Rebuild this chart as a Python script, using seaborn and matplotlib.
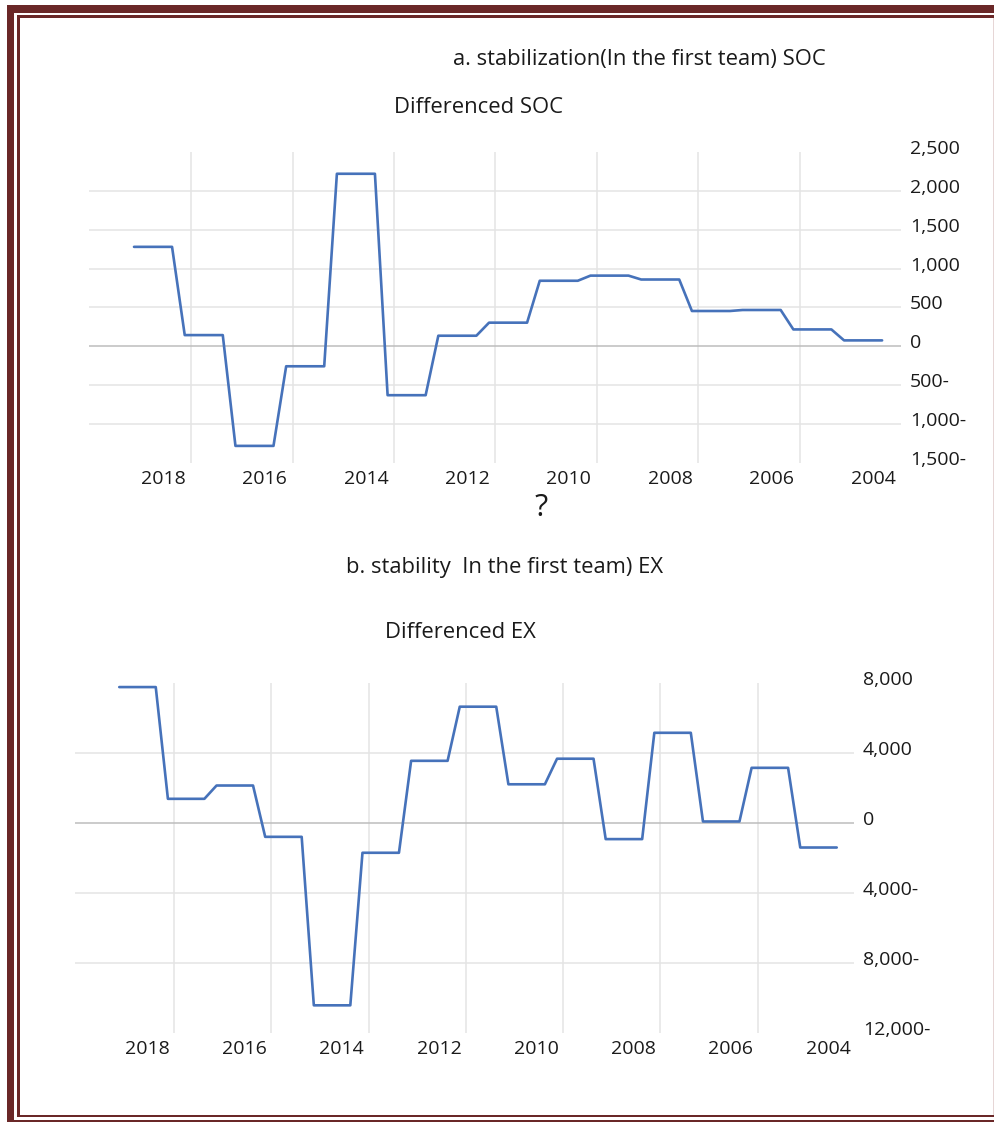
import numpy as np
import pandas as pd
import seaborn as sns
import matplotlib
matplotlib.use("Agg")
import matplotlib.pyplot as plt
from matplotlib.patches import Rectangle
from matplotlib.transforms import ScaledTranslation

# ---------------- data (annual values, shown as quarterly steps) ----------------
years = [2018, 2017, 2016, 2015, 2014, 2013, 2012, 2011, 2010, 2009,
         2008, 2007, 2006, 2005, 2004]
soc_values = [1280, 145, -1280, -256, 2220, -628, 137, 305, 844, 910,
              860, 455, 468, 218, 77]
ex_values = [7750, 1370, 2130, -800, -10420, -1710, 3540, 6630, 2200, 3660,
             -930, 5140, 76, 3140, -1410]
year_labels = ["2018", "2016", "2014", "2012", "2010", "2008", "2006", "2004"]
soc_ticks = [2500, 2000, 1500, 1000, 500, 0, -500, -1000, -1500]
soc_tick_labels = ["2,500", "2,000", "1,500", "1,000", "500", "0",
                   "500-", "1,000-", "1,500-"]
ex_ticks = [8000, 4000, 0, -4000, -8000, -12000]
ex_tick_labels = ["8,000", "4,000", "0", "4,000-", "8,000-", "12,000-"]

title_a = "a. stabilization(In the first team) SOC"
sub_a = "Differenced SOC"
title_b = "b. stability  In the first team) EX"
sub_b = "Differenced EX"

QPY = 4  # quarters per year (each annual value held for a year)

# ---------------- style ----------------
sns.set_theme(style="white")
plt.rcParams["font.family"] = ["Open Sans", "DejaVu Sans"]

W, H = 995, 1122
BLUE = "#4672ba"
GRID = "#e4e4e4"
ZERO = "#bdbdbd"
TXT = "#1a1a1a"
FRAME = "#6a2828"

fig = plt.figure(figsize=(W / 100, H / 100), dpi=100)


def axes_px(x0, y0, x1, y1):
    return fig.add_axes([x0 / W, 1 - y1 / H, (x1 - x0) / W, (y1 - y0) / H])


def draw_panel(ax, values, ticks, tick_labels, xlim):
    df = pd.DataFrame({
        "t": np.arange(len(values) * QPY),
        "value": np.repeat(values, QPY),
        "year": np.repeat(years, QPY),
    })
    sns.lineplot(data=df, x="t", y="value", ax=ax, color=BLUE,
                 linewidth=1.9, estimator=None, zorder=3)
    ax.set_xlim(*xlim)
    ax.set_ylim(ticks[-1], ticks[0])
    ax.grid(False)
    for g in [4.5 + 8 * k for k in range(7)]:
        ax.axvline(g, color=GRID, lw=1.1, zorder=0)
    for v in ticks[1:-1]:
        ax.axhline(v, color=ZERO if v == 0 else GRID, lw=1.1, zorder=1)
    ax.set_xticks([2.3 + 8 * k for k in range(len(year_labels))])
    ax.set_xticklabels(year_labels)
    ax.yaxis.tick_right()
    ax.set_yticks(ticks)
    ax.set_yticklabels(tick_labels)
    ax.tick_params(length=0, labelsize=14, colors=TXT)
    ax.tick_params(axis="y", pad=6.5)
    ax.tick_params(axis="x", pad=5)
    for s in ax.spines.values():
        s.set_visible(False)
    ax.set_xlabel("")
    ax.set_ylabel("")
    ax.set_facecolor("none")
    off = ScaledTranslation(0, 0.05, fig.dpi_scale_trans)
    for lbl in ax.get_yticklabels():
        lbl.set_transform(lbl.get_transform() + off)


ax_a = axes_px(89, 152, 901, 463)
draw_panel(ax_a, soc_values, soc_ticks, soc_tick_labels, (-3.55, 60.49))

ax_b = axes_px(75, 682.7, 854, 1033)
draw_panel(ax_b, ex_values, ex_ticks, ex_tick_labels, (-3.64, 60.42))

# ---------------- texts ----------------
def ftext(x, y, s, size, weight="normal"):
    fig.text(x / W, 1 - y / H, s, ha="center", va="center", fontsize=size,
             color=TXT, fontweight=weight)


ftext(639, 59, title_a, 15.8)
ftext(479, 108, sub_a, 15.8)
ftext(541, 508, "?", 22)
ftext(505, 568, title_b, 15.8)
ftext(460, 633, sub_b, 15.8)

# ---------------- frame ----------------
def rect(x0, y0, x1, y1, color):
    fig.add_artist(Rectangle((x0 / W, 1 - y1 / H), (x1 - x0) / W, (y1 - y0) / H,
                             transform=fig.transFigure, color=color, lw=0))


rect(7, 5, 995, 13, FRAME)
rect(7, 5, 14.5, 1122, FRAME)
rect(17, 15, 995, 17.5, FRAME)
rect(17, 15, 19.5, 1117, FRAME)
rect(17, 1114.5, 995, 1117, FRAME)
rect(7, 1120, 995, 1122, FRAME)
rect(993.5, 17.5, 994.8, 1114.5, "#e6d6d6")

fig.savefig("out.png", dpi=100)
